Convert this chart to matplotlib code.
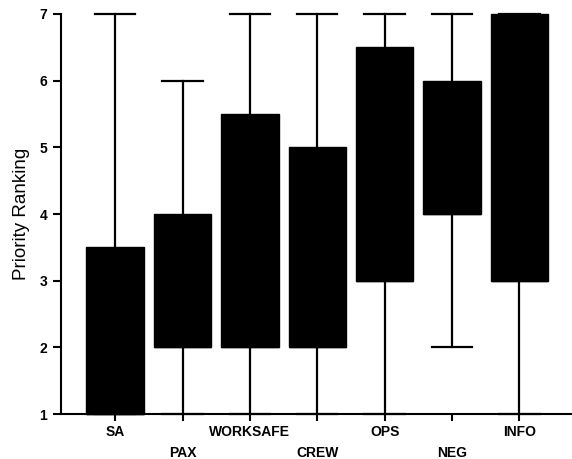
import matplotlib
matplotlib.use('Agg')
from matplotlib import pyplot as plt

categories = ['SA', 'PAX', 'WORKSAFE', 'CREW', 'OPS', 'NEG', 'INFO']
mins = [1, 1, 1, 1, 1, 2, 1]
q1s = [1, 2, 2, 2, 3, 4, 3]
q3s = [3.5, 4, 5.5, 5, 6.5, 6, 7]
maxs = [7, 6, 7, 7, 7, 7, 7]

plt.rcParams['font.family'] = ['Liberation Sans', 'DejaVu Sans']

fig = plt.figure(figsize=(5.72, 4.59), dpi=100)
ax = fig.add_axes([0.107, 0.098, 0.893, 0.8715])

stats = []
for name, lo, a, b, hi in zip(categories, mins, q1s, q3s, maxs):
    stats.append({'label': name, 'whislo': lo, 'q1': a, 'med': a,
                  'q3': b, 'whishi': hi, 'fliers': []})

x = list(range(len(categories)))
art = ax.bxp(stats, positions=x, widths=0.85, capwidths=0.6,
             patch_artist=True, showfliers=False,
             boxprops=dict(facecolor='black', edgecolor='black', linewidth=1),
             medianprops=dict(color='black', linewidth=1),
             whiskerprops=dict(color='black', linewidth=1.6),
             capprops=dict(color='black', linewidth=1.6))
for group in art.values():
    for a in group:
        a.set_clip_on(False)

ax.set_xlim(-0.8, 6.78)
ax.set_ylim(1, 7)
ax.set_yticks(range(1, 8))

labels = [c if i % 2 == 0 else '\n' + c for i, c in enumerate(categories)]
ax.set_xticks(x)
ax.set_xticklabels(labels, fontsize=10, fontweight='bold', linespacing=1.6)
ax.tick_params(axis='x', direction='out', length=5, width=1.5, pad=3)
ax.tick_params(axis='y', direction='out', length=6, width=1.5, pad=4,
               labelsize=10)
for t in ax.get_yticklabels():
    t.set_fontweight('bold')

ax.set_ylabel('Priority Ranking', fontsize=13.5, labelpad=7)

ax.spines['top'].set_visible(False)
ax.spines['right'].set_visible(False)
ax.spines['left'].set_linewidth(1.5)
ax.spines['bottom'].set_linewidth(1.5)

fig.savefig('out.png', dpi=100)
